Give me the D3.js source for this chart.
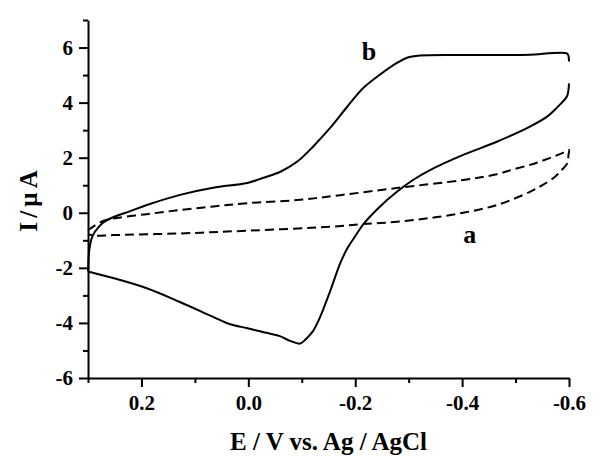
<!DOCTYPE html>
<html>
<head>
<meta charset="utf-8">
<script src="https://cdnjs.cloudflare.com/ajax/libs/d3/7.8.5/d3.min.js"></script>
<style>
  body { margin: 0; background: #fff; }
  .axis path, .axis line { stroke: #000; stroke-width: 2; }
  .axis text { font-family: "Liberation Serif", serif; font-weight: bold; font-size: 21px; fill: #000; }
  .axisTitle { font-family: "Liberation Serif", serif; font-weight: bold; font-size: 25px; fill: #000; }
  .curveLabel { font-family: "Liberation Serif", serif; font-weight: bold; font-size: 26px; fill: #000; }
  .cv { fill: none; stroke: #000; stroke-width: 2; }
</style>
</head>
<body>
<div id="chart"></div>
<script>
// axis ranges and ticks
var xDomain = [0.3, -0.6];
var yDomain = [-6, 7];
var xMajorTicks = [0.2, 0.0, -0.2, -0.4, -0.6];
var xTickLabels = ["0.2", "0.0", "-0.2", "-0.4", "-0.6"];
var xMinorTicks = [0.3, 0.1, -0.1, -0.3, -0.5];
var yMajorTicks = [-6, -4, -2, 0, 2, 4, 6];
var yTickLabels = ["-6", "-4", "-2", "0", "2", "4", "6"];
var yMinorTicks = [-5, -3, -1, 1, 3, 5, 7];

// curve a (dashed): forward sweep then back
var aPotential = [0.300, 0.291, 0.272, 0.253, 0.190, 0.128, 0.065, 0.002, -0.091, -0.172, -0.278, -0.402,
  -0.465, -0.495, -0.527, -0.546, -0.583, -0.596, -0.600,
  -0.599, -0.597, -0.583, -0.574, -0.551, -0.527, -0.465, -0.402, -0.340, -0.278, -0.215, -0.153,
  0.002, 0.128, 0.253, 0.287, 0.300];
var aCurrent = [-0.63, -0.51, -0.30, -0.21, -0.05, 0.10, 0.23, 0.35, 0.46, 0.64, 0.90, 1.19,
  1.40, 1.57, 1.74, 1.86, 2.13, 2.25, 2.28,
  2.10, 1.80, 1.49, 1.31, 1.01, 0.76, 0.28, 0.00, -0.19, -0.33, -0.41, -0.51,
  -0.65, -0.75, -0.81, -0.83, -0.78];

// curve b (solid): forward sweep
var bForwardPotential = [0.300, 0.2995, 0.298, 0.293, 0.287, 0.272, 0.253, 0.221, 0.190, 0.128, 0.066, 0.002,
  -0.028, -0.060, -0.091, -0.121, -0.153, -0.185, -0.215, -0.246, -0.278, -0.297, -0.321, -0.402,
  -0.495, -0.527, -0.596, -0.599, -0.600];
var bForwardCurrent = [-2.13, -1.95, -1.42, -0.92, -0.69, -0.36, -0.16, 0.06, 0.28, 0.65, 0.91, 1.08,
  1.27, 1.49, 1.85, 2.40, 3.08, 3.85, 4.53, 5.01, 5.44, 5.63, 5.71, 5.73,
  5.73, 5.74, 5.79, 5.70, 5.49];

// curve b: reverse sweep
var bReversePotential = [-0.600, -0.599, -0.596, -0.577, -0.559, -0.527, -0.465, -0.402, -0.340, -0.308,
  -0.278, -0.246, -0.215, -0.200, -0.185, -0.172, -0.153, -0.134, -0.121, -0.106, -0.097, -0.078,
  -0.059, -0.041, -0.027, 0.002, 0.034, 0.066, 0.128, 0.190, 0.253, 0.300];
var bReverseCurrent = [4.70, 4.46, 4.22, 3.81, 3.49, 3.13, 2.58, 2.10, 1.55, 1.19,
  0.76, 0.22, -0.42, -0.85, -1.30, -1.83, -2.85, -3.80, -4.30, -4.62, -4.75, -4.65,
  -4.48, -4.39, -4.33, -4.19, -4.05, -3.78, -3.24, -2.74, -2.37, -2.13];

var margin = {top: 20, left: 88};
var width = 481, height = 358;

var svg = d3.select("#chart").append("svg")
    .attr("width", 600)
    .attr("height", 467);

var g = svg.append("g").attr("transform", "translate(" + margin.left + "," + margin.top + ")");

var x = d3.scaleLinear().domain(xDomain).range([0, width]);
var y = d3.scaleLinear().domain(yDomain).range([height, 0]);

// x axis: major ticks with labels, then minor ticks
g.append("g").attr("class", "axis")
    .attr("transform", "translate(0," + height + ")")
    .call(d3.axisBottom(x).tickValues(xMajorTicks)
        .tickFormat(function(d, i){ return xTickLabels[i]; })
        .tickSize(9).tickSizeOuter(0).tickPadding(8));
g.append("g").attr("class", "axis")
    .attr("transform", "translate(0," + height + ")")
    .call(d3.axisBottom(x).tickValues(xMinorTicks).tickFormat("").tickSize(5).tickSizeOuter(0))
    .select(".domain").remove();

// y axis
g.append("g").attr("class", "axis")
    .call(d3.axisLeft(y).tickValues(yMajorTicks)
        .tickFormat(function(d, i){ return yTickLabels[i]; })
        .tickSize(9).tickSizeOuter(0).tickPadding(6));
g.append("g").attr("class", "axis")
    .call(d3.axisLeft(y).tickValues(yMinorTicks).tickFormat("").tickSize(5).tickSizeOuter(0))
    .select(".domain").remove();

var line = d3.line()
    .x(function(d){ return x(d[0]); })
    .y(function(d){ return y(d[1]); })
    .curve(d3.curveCatmullRom.alpha(0.5));

g.append("path").attr("class", "cv")
    .attr("stroke-dasharray", "9,5")
    .attr("d", line(d3.zip(aPotential, aCurrent)));
g.append("path").attr("class", "cv")
    .attr("d", line(d3.zip(bForwardPotential, bForwardCurrent)));
g.append("path").attr("class", "cv")
    .attr("d", line(d3.zip(bReversePotential, bReverseCurrent)));

// curve labels
g.append("text").attr("class", "curveLabel").attr("x", x(-0.212)).attr("y", y(5.55)).text("b");
g.append("text").attr("class", "curveLabel").attr("x", x(-0.402)).attr("y", y(-1.10)).text("a");

// axis titles
svg.append("text").attr("class", "axisTitle")
    .attr("text-anchor", "middle")
    .attr("x", margin.left + width / 2).attr("y", 450)
    .text("E / V vs. Ag / AgCl");
svg.append("text").attr("class", "axisTitle")
    .attr("text-anchor", "middle")
    .attr("word-spacing", "-2px")
    .attr("transform", "translate(37," + 201 + ") rotate(-90)")
    .text("I / μ A");
</script>
</body>
</html>
